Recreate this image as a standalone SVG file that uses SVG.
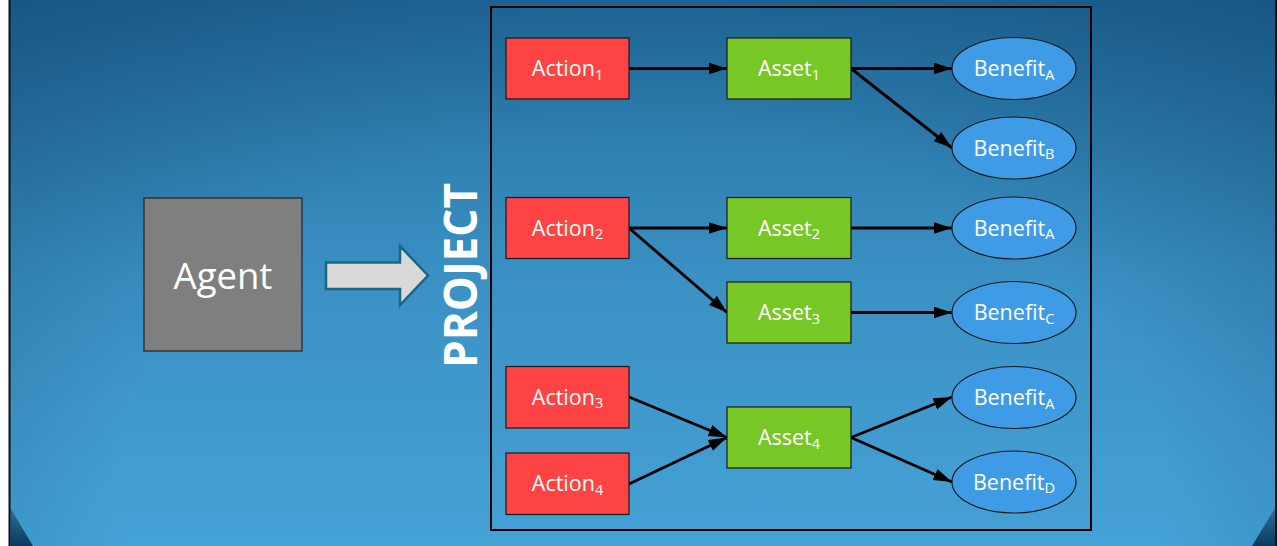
<svg xmlns="http://www.w3.org/2000/svg" width="1277" height="546" viewBox="0 0 1277 546">
<defs>
<linearGradient id="bg" x1="0" y1="0" x2="0" y2="1">
<stop offset="0" stop-color="#226c9b"/>
<stop offset="0.5" stop-color="#3a90c3"/>
<stop offset="1" stop-color="#45a2d6"/>
</linearGradient>
<radialGradient id="vig" cx="0.5" cy="0.9" r="0.75" gradientTransform="translate(0.5 0.9) scale(1 1.6) translate(-0.5 -0.9)">
<stop offset="0.55" stop-color="#0b3d66" stop-opacity="0"/>
<stop offset="1" stop-color="#0b3d66" stop-opacity="0.45"/>
</radialGradient>
<linearGradient id="corner" x1="0" y1="0" x2="0" y2="1">
<stop offset="0" stop-color="#2a6f9c"/>
<stop offset="1" stop-color="#0b3b5e"/>
</linearGradient>
<marker id="ah" markerUnits="userSpaceOnUse" markerWidth="19" markerHeight="13" refX="18.5" refY="6" orient="auto">
<path d="M0,0 L18.5,6 L0,12 Z" fill="#000"/>
</marker>
<style>
.lbl{font-family:"Open Sans","Liberation Sans",sans-serif;fill:#fff;text-anchor:middle;font-size:21.5px}
.sub{font-size:14.5px}
.act{fill:#fd4343;stroke:#1a1a1a;stroke-width:1.2}
.ast{fill:#77c726;stroke:#1a1a1a;stroke-width:1.2}
.ben{fill:#409be6;stroke:#1a1a1a;stroke-width:1.2}
.cn{stroke:#000;stroke-width:2.9;fill:none;marker-end:url(#ah)}
</style>
</defs>
<rect x="0" y="0" width="1277" height="546" fill="#ffffff"/>
<rect x="9" y="0" width="1268" height="546" fill="url(#bg)"/>
<rect x="9" y="0" width="1268" height="546" fill="url(#vig)"/>
<path d="M10.5,508 Q22,528 33,546 L10.5,546 Z" fill="url(#corner)"/>
<path d="M1275,508 Q1263,528 1252,546 L1275,546 Z" fill="url(#corner)"/>
<line x1="9.5" y1="0" x2="9.5" y2="546" stroke="#111" stroke-width="2"/>
<line x1="1276" y1="0" x2="1276" y2="546" stroke="#111" stroke-width="2"/>

<g id="agent">
<rect x="144" y="198" width="158" height="153" fill="#7f7f7f" stroke="#222" stroke-width="1.2"/>
<text x="223" y="289" style="font-family:'Open Sans','Liberation Sans',sans-serif;font-size:36.5px;fill:#fff;text-anchor:middle">Agent</text>
</g>

<g id="bigArrow">
<path d="M326,262.5 L400,262.5 L400,246 L428,275.5 L400,305 L400,289 L326,289 Z" fill="#d9d9d9" stroke="#1b6680" stroke-width="2.5" stroke-linejoin="miter"/>
</g>

<g id="projectLabel">
<text transform="translate(477,275.5) rotate(-90)" x="0" y="0" textLength="185" lengthAdjust="spacingAndGlyphs" style="font-family:'Open Sans','Liberation Sans',sans-serif;font-weight:700;font-size:46px;fill:#fff;text-anchor:middle">PROJECT</text>
</g>

<g id="project">
<rect x="491" y="7" width="600" height="523" fill="none" stroke="#000" stroke-width="2"/>
</g>

<g id="connectors">
<line class="cn" x1="629" y1="68.5" x2="727" y2="68.5"/>
<line class="cn" x1="851" y1="68.5" x2="952" y2="68.5"/>
<line class="cn" x1="851" y1="68.5" x2="952" y2="148"/>
<line class="cn" x1="629" y1="228" x2="727" y2="228"/>
<line class="cn" x1="629" y1="228" x2="727" y2="312.5"/>
<line class="cn" x1="851" y1="228" x2="952" y2="228"/>
<line class="cn" x1="851" y1="312.5" x2="952" y2="312.5"/>
<line class="cn" x1="629" y1="397" x2="727" y2="437.5"/>
<line class="cn" x1="629" y1="484" x2="727" y2="437.5"/>
<line class="cn" x1="851" y1="437.5" x2="952" y2="397"/>
<line class="cn" x1="851" y1="437.5" x2="952" y2="482"/>
</g>

<g id="action1"><rect class="act" x="506" y="38" width="123" height="61"/><text class="lbl" x="567.5" y="76">Action<tspan class="sub" dy="3.5">1</tspan></text></g>
<g id="action2"><rect class="act" x="506" y="197.5" width="123" height="61"/><text class="lbl" x="567.5" y="235.5">Action<tspan class="sub" dy="3.5">2</tspan></text></g>
<g id="action3"><rect class="act" x="506" y="366.5" width="123" height="61.5"/><text class="lbl" x="567.5" y="404.5">Action<tspan class="sub" dy="3.5">3</tspan></text></g>
<g id="action4"><rect class="act" x="506" y="453" width="123" height="61.5"/><text class="lbl" x="567.5" y="491">Action<tspan class="sub" dy="3.5">4</tspan></text></g>

<g id="asset1"><rect class="ast" x="727" y="38" width="124" height="61"/><text class="lbl" x="789" y="76">Asset<tspan class="sub" dy="3.5">1</tspan></text></g>
<g id="asset2"><rect class="ast" x="727" y="197.5" width="124" height="61"/><text class="lbl" x="789" y="235.5">Asset<tspan class="sub" dy="3.5">2</tspan></text></g>
<g id="asset3"><rect class="ast" x="727" y="282" width="124" height="61"/><text class="lbl" x="789" y="320">Asset<tspan class="sub" dy="3.5">3</tspan></text></g>
<g id="asset4"><rect class="ast" x="727" y="407" width="124" height="61"/><text class="lbl" x="789" y="445">Asset<tspan class="sub" dy="3.5">4</tspan></text></g>

<g id="benefitA1"><ellipse class="ben" cx="1014" cy="68.5" rx="62" ry="31"/><text class="lbl" x="1014" y="76">Benefit<tspan class="sub" dy="3.5">A</tspan></text></g>
<g id="benefitB"><ellipse class="ben" cx="1014" cy="148" rx="62" ry="31"/><text class="lbl" x="1014" y="155.5">Benefit<tspan class="sub" dy="3.5">B</tspan></text></g>
<g id="benefitA2"><ellipse class="ben" cx="1014" cy="228" rx="62" ry="31"/><text class="lbl" x="1014" y="235.5">Benefit<tspan class="sub" dy="3.5">A</tspan></text></g>
<g id="benefitC"><ellipse class="ben" cx="1014" cy="312.5" rx="62" ry="31"/><text class="lbl" x="1014" y="320">Benefit<tspan class="sub" dy="3.5">C</tspan></text></g>
<g id="benefitA3"><ellipse class="ben" cx="1014" cy="397.5" rx="62" ry="31"/><text class="lbl" x="1014" y="405">Benefit<tspan class="sub" dy="3.5">A</tspan></text></g>
<g id="benefitD"><ellipse class="ben" cx="1014" cy="482" rx="62" ry="31"/><text class="lbl" x="1014" y="489.5">Benefit<tspan class="sub" dy="3.5">D</tspan></text></g>
</svg>
